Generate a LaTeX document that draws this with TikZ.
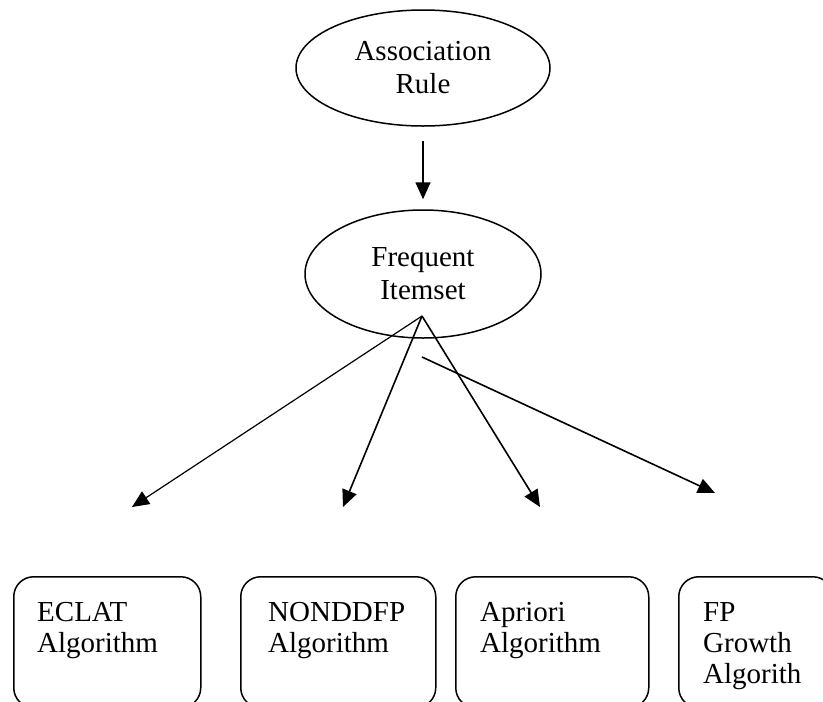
\documentclass[tikz,border=0pt]{standalone}
\usepackage{fontspec}
\setmainfont{Liberation Serif}
\usetikzlibrary{shapes.geometric,arrows.meta}

\begin{document}
\begin{tikzpicture}[x=1pt,y=-1pt,
  oval/.style={draw,ellipse,line width=1.5pt,inner sep=0pt,align=center,font=\fontsize{29}{33}\selectfont},
  algobox/.style={draw,rounded corners=20pt,line width=1.5pt,inner sep=0pt,anchor=north west},
  algotext/.style={anchor=north west,align=left,inner sep=0pt,font=\fontsize{29}{31}\selectfont},
  link/.style={line width=1.6pt,-{Triangle[length=17pt,width=15pt]}}]
\useasboundingbox (0,0) rectangle (823,702);
\clip (0,0) rectangle (823,702);

% ovals
\node[oval,minimum width=254pt,minimum height=116pt] (assoc) at (423,68) {Association\\Rule};
\node[oval,minimum width=236pt,minimum height=128pt] (freq) at (423,274) {Frequent\\Itemset};
\draw[link] ([yshift=-14pt]assoc.south) -- ([yshift=10pt]freq.north);

% algorithm boxes
\node[algobox,minimum width=187pt,minimum height=131pt] (eclat) at (13,576) {};
\node[algobox,minimum width=195pt,minimum height=131pt] (nonddfp) at (240,576) {};
\node[algobox,minimum width=193pt,minimum height=131pt] (apriori) at (455,576) {};
\node[algobox,minimum width=154pt,minimum height=131pt] (fpgrowth) at (678,576) {};
\node[algotext] (eclattxt) at ([xshift=24pt,yshift=-26pt]eclat.north west) {ECLAT\\Algorithm};
\node[algotext] (nonddfptxt) at ([xshift=28pt,yshift=-26pt]nonddfp.north west) {NONDDFP\\Algorithm};
\node[algotext] (aprioritxt) at ([xshift=25pt,yshift=-26pt]apriori.north west) {Apriori\\Algorithm};
\node[algotext] (fpgrowthtxt) at ([xshift=25pt,yshift=-26pt]fpgrowth.north west) {FP\\Growth\\Algorith};

% arrows from the itemset
\coordinate (apex) at (422,316);
\coordinate (fpstart) at (422,357);
\coordinate (tipE) at (132,507);
\coordinate (tipN) at (343,507);
\coordinate (tipA) at (540,507);
\coordinate (tipF) at (715,493);
\draw[link,line width=1.2pt] (apex) -- (tipE);
\draw[link] (apex) -- (tipN);
\draw[link] (apex) -- (tipA);
\draw[link] (fpstart) -- (tipF);

\end{tikzpicture}
\end{document}
